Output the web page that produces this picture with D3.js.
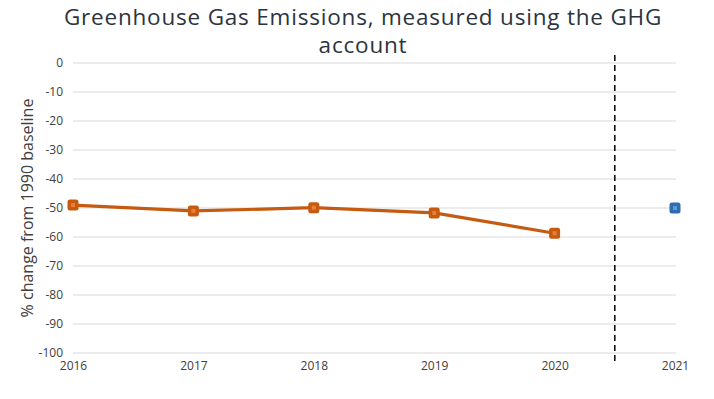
<!DOCTYPE html>
<html>
<head>
<meta charset="utf-8">
<script src="https://cdn.jsdelivr.net/npm/d3@7"></script>
<style>
  body { margin: 0; background: #fff; }
  text { font-family: "Open Sans", "Liberation Sans", sans-serif; }
</style>
</head>
<body>
<div class="canva"></div>
<script>
const width = 714
const height = 399

// data
const years = [2016, 2017, 2018, 2019, 2020, 2021]
const measured = [-49, -51, -49.9, -51.7, -58.7]   // 2016-2020, orange series
const target = [{ year: 2021, value: -50 }]          // blue point
const yTicks = [0, -10, -20, -30, -40, -50, -60, -70, -80, -90, -100]
const splitYear = 2020.5

const margin = { left: 73, right: 38, top: 63, bottom: 46 }

const svg = d3.select(".canva").append("svg").attr("width", width).attr("height", height)

const x = d3.scaleLinear().domain([2016, 2021]).range([margin.left, width - margin.right - 1])
const y = d3.scaleLinear().domain([0, -100]).range([margin.top, height - margin.bottom])

// gridlines
svg.append("g")
  .selectAll("line")
  .data(yTicks)
  .enter()
  .append("line")
  .attr("x1", x(2016))
  .attr("x2", x(2021) + 1)
  .attr("y1", d => y(d))
  .attr("y2", d => y(d))
  .attr("stroke", "#d9d9d9")
  .attr("stroke-width", 1)

// y axis labels
const yAxis = svg.append("g")
  .attr("transform", `translate(${margin.left - 10},0)`)
  .call(d3.axisLeft(y).tickValues(yTicks).tickFormat(d => String(d)).tickSize(0).tickPadding(0))
yAxis.select(".domain").remove()
yAxis.selectAll("text").attr("font-size", 12).attr("fill", "#404040")
  .attr("font-family", "'Open Sans', sans-serif")

// x axis labels
const xAxis = svg.append("g")
  .attr("transform", `translate(0,${y(-100) + 8})`)
  .call(d3.axisBottom(x).tickValues(years).tickFormat(d3.format("d")).tickSize(0).tickPadding(0))
xAxis.select(".domain").remove()
xAxis.selectAll("text").attr("font-size", 12).attr("fill", "#404040")
  .attr("font-family", "Lato, sans-serif")

// dashed split line
svg.append("line")
  .attr("x1", x(splitYear))
  .attr("x2", x(splitYear))
  .attr("y1", 55)
  .attr("y2", 362)
  .attr("stroke", "#000")
  .attr("stroke-width", 1.5)
  .attr("stroke-dasharray", "6,4")

// orange series
const pts = measured.map((v, i) => ({ year: years[i], value: v }))
const line = d3.line().x(d => x(d.year)).y(d => y(d.value))
svg.append("path")
  .datum(pts)
  .attr("d", line)
  .attr("fill", "none")
  .attr("stroke", "#c55a11")
  .attr("stroke-width", 3.2)

function markers(data, outer, inner) {
  const g = svg.append("g")
  g.selectAll("rect.o")
    .data(data)
    .enter()
    .append("rect")
    .attr("x", d => x(d.year) - 5.5)
    .attr("y", d => y(d.value) - 5.5)
    .attr("width", 11)
    .attr("height", 11)
    .attr("rx", 2.5)
    .attr("fill", outer)
  g.selectAll("rect.i")
    .data(data)
    .enter()
    .append("rect")
    .attr("x", d => x(d.year) - 2)
    .attr("y", d => y(d.value) - 2)
    .attr("width", 4)
    .attr("height", 4)
    .attr("fill", inner)
}
markers(pts, "#c55a11", "#ed7d31")
markers(target, "#2e6bb0", "#5b9bd5")

// title
const title = svg.append("text")
  .attr("x", 363)
  .attr("text-anchor", "middle")
  .attr("font-size", 22.5)
  .attr("letter-spacing", 0.8)
  .attr("fill", "#2b3440")
  .attr("font-family", "Lato, sans-serif")
title.append("tspan").attr("x", 363).attr("y", 25).text("Greenhouse Gas Emissions, measured using the GHG")
title.append("tspan").attr("x", 363).attr("y", 53).text("account")

// y title
svg.append("text")
  .attr("transform", `translate(33,${y(-50)}) rotate(-90)`)
  .attr("text-anchor", "middle")
  .attr("font-size", 16)
  .attr("fill", "#404040")
  .text("% change from 1990 baseline")
</script>
</body>
</html>
